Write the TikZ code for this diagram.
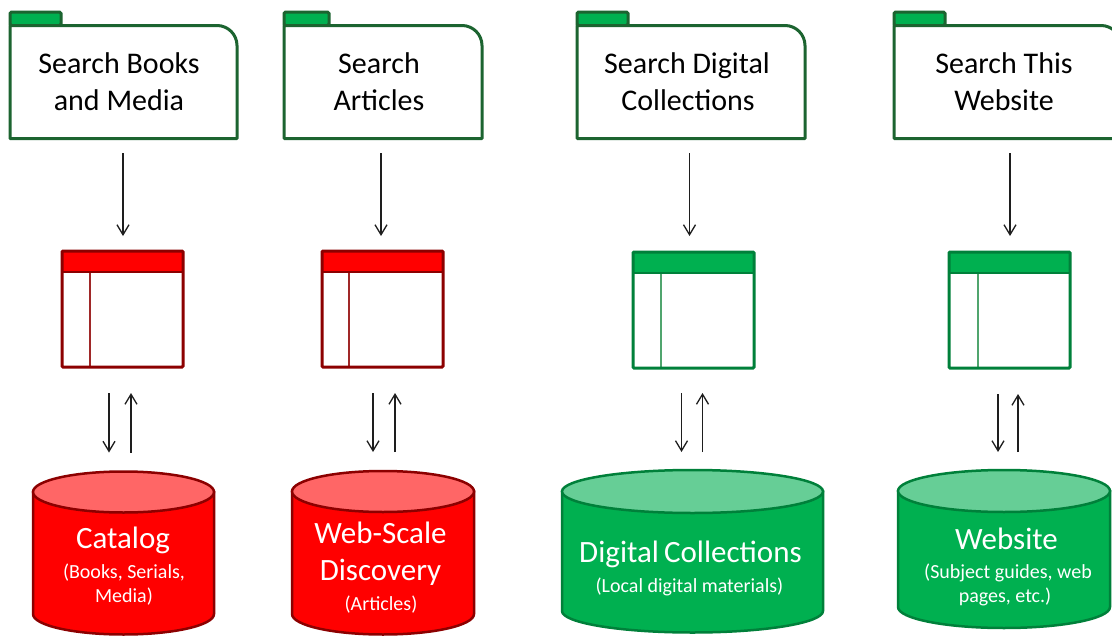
\documentclass[tikz,border=0pt]{standalone}
\usepackage{fontspec}
\setmainfont{Carlito}
\usetikzlibrary{arrows.meta}
\definecolor{fline}{RGB}{28,100,48}
\definecolor{tabgreen}{RGB}{0,176,80}
\definecolor{dkred}{RGB}{140,0,0}
\definecolor{redhead}{RGB}{255,0,0}
\definecolor{redvline}{RGB}{160,40,40}
\definecolor{dkgreen}{RGB}{0,128,58}
\definecolor{greenhead}{RGB}{0,176,80}
\definecolor{greenvline}{RGB}{80,165,110}
\definecolor{redbody}{RGB}{255,0,0}
\definecolor{redtop}{RGB}{255,102,102}
\definecolor{greenbody}{RGB}{0,176,80}
\definecolor{greentop}{RGB}{102,206,150}
\definecolor{arrowgray}{RGB}{30,30,30}
\newcommand{\folderbox}[5]{% name, L, R, tabR, text x
  \draw[line width=3pt, draw=fline, fill=tabgreen, rounded corners=1.5pt] (#2,25.5) -- (#2,12) -- (#4,12) -- (#4,25.5) -- cycle;
  \draw[line width=3pt, draw=fline, fill=white, line join=round] (#2,138.5) -- (#2,25.5) -- ({#3-20},25.5) .. controls ({#3-9},25.5) and (#3,34.5) .. (#3,45.5) -- (#3,138.5) -- cycle;
  \node[inner sep=0, outer sep=0, minimum width={#3-#2}, minimum height=113] (#1) at ({(#2+#3)/2},82) {};
}
\newcommand{\tablebox}[5]{% name, L, top, kind, vline offset
  \node[inner sep=0, outer sep=0, minimum width=121, minimum height=116, anchor=north west] (#1) at (#2,#3) {};
  \fill[#4head] (#1.north west) rectangle ([yshift=-21pt]#1.north east);
  \draw[#4vline, line width=1.5pt] ([xshift=#5pt,yshift=-21pt]#1.north west) -- ([xshift=#5pt]#1.south west);
  \draw[dk#4, line width=2.5pt] ([yshift=-21pt]#1.north west) -- ([yshift=-21pt]#1.north east);
  \draw[dk#4, line width=3pt, rounded corners=1pt] (#1.north west) rectangle (#1.south east);
}
\newcommand{\dbcyl}[7]{% name, cx, rx, top cy, bottom cy, ry, kind
  \draw[line width=2.5pt, draw=dk#7, fill=#7body] ({#2-#3},#4) -- ({#2-#3},#5) .. controls ({#2-#3},{#5+0.5523*#6}) and ({#2-0.5523*#3},{#5+#6}) .. (#2,{#5+#6}) .. controls ({#2+0.5523*#3},{#5+#6}) and ({#2+#3},{#5+0.5523*#6}) .. ({#2+#3},#5) -- ({#2+#3},#4) -- cycle;
  \draw[line width=2.5pt, draw=dk#7, fill=#7top] ({#2-#3},#4) .. controls ({#2-#3},{#4-0.5523*#6}) and ({#2-0.5523*#3},{#4-#6}) .. (#2,{#4-#6}) .. controls ({#2+0.5523*#3},{#4-#6}) and ({#2+#3},{#4-0.5523*#6}) .. ({#2+#3},#4) .. controls ({#2+#3},{#4+0.5523*#6}) and ({#2+0.5523*#3},{#4+#6}) .. (#2,{#4+#6}) .. controls ({#2-0.5523*#3},{#4+#6}) and ({#2-#3},{#4+0.5523*#6}) .. cycle;
  \coordinate (#1) at (#2,{#4-#6});
}
\begin{document}
\begin{tikzpicture}[x=1pt, y=-1pt,
  arr/.style={draw=arrowgray, line width=1.3pt, -{Straight Barb[length=10pt,width=12pt,line width=1.3pt]}},
  ftext/.style={anchor=base, inner sep=0, font=\fontsize{30}{37}\selectfont, text=black},
  cmain/.style={anchor=base, inner sep=0, font=\fontsize{31}{38}\selectfont, text=white},
  csub/.style={anchor=base, inner sep=0, font=\fontsize{20}{24}\selectfont, text=white}]
\useasboundingbox (0,0) rectangle (1112,637);
\clip (0,0) rectangle (1112,637);
\fill[white] (0,0) rectangle (1112,637);

% folders
\folderbox{f1}{10}{237}{61}{119}
\folderbox{f2}{284}{482}{329}{379}
\folderbox{f3}{577}{805}{628}{687}
\folderbox{f4}{894}{1121}{945}{1004}
\node[ftext] (f1a) at (119,73) {Search Books};
\node[ftext] (f1b) at (119,110) {and Media};
\node[ftext] (f2a) at (379,73) {Search};
\node[ftext] (f2b) at (379,110) {Articles};
\node[ftext] (f3a) at (687,73) {Search Digital};
\node[ftext] (f3b) at (688,110) {Collections};
\node[ftext] (f4a) at (1004,73) {Search This};
\node[ftext] (f4b) at (1004,110) {Website};

% tables
\tablebox{t1}{62}{251}{red}{28}
\tablebox{t2}{322}{251}{red}{27}
\tablebox{t3}{633}{252}{green}{28}
\tablebox{t4}{949}{252}{green}{29}

% cylinders
\dbcyl{c1}{123.5}{90.5}{492}{614}{20.5}{red}
\dbcyl{c2}{383}{91}{491.5}{614}{20.5}{red}
\dbcyl{c3}{692.5}{130.5}{491.5}{611}{21.5}{green}
\dbcyl{c4}{1004}{106}{491}{607}{21}{green}

\node[cmain] (c1a) at (123,548) {Catalog};
\node[csub] (c1b) at (124,578) {(Books, Serials,};
\node[csub] (c1c) at (124,602) {Media)};
\node[cmain] (c2a) at (380.5,543) {Web-Scale};
\node[cmain] (c2b) at (380.5,580) {Discovery};
\node[csub] (c2c) at (381,610) {(Articles)};
\node[cmain] (c3a) at (690.5,562) {Digital\hspace{-2pt} Collections};
\node[csub] (c3b) at (689.5,592) {(Local digital materials)};
\node[cmain] (c4a) at (1006.5,549) {Website};
\node[csub] (c4b) at (1008,578) {(Subject guides, web};
\node[csub] (c4c) at (1005,602) {pages, etc.)};

% arrows folder -> table
\draw[arr, shorten <=14.5pt, shorten >=15pt] ([xshift=0.5pt]t1.north |- f1.south) -- ([xshift=0.5pt]t1.north);
\draw[arr, shorten <=14.5pt, shorten >=15pt] ([xshift=-1.5pt]t2.north |- f2.south) -- ([xshift=-1.5pt]t2.north);
\draw[arr, shorten <=14.5pt, shorten >=16pt] ([xshift=-4pt]t3.north |- f3.south) -- ([xshift=-4pt]t3.north);
\draw[arr, shorten <=14.5pt, shorten >=16pt] ([xshift=0.5pt]t4.north |- f4.south) -- ([xshift=0.5pt]t4.north);

% arrows table <-> cylinder
\draw[arr, shorten <=26pt, shorten >=19pt] ([xshift=-13.5pt]t1.south) -- ([xshift=-13.5pt]t1.south |- c1);
\draw[arr, shorten <=19pt, shorten >=26pt] ([xshift=8.5pt]t1.south |- c1) -- ([xshift=8.5pt]t1.south);
\draw[arr, shorten <=26pt, shorten >=19pt] ([xshift=-9.5pt]t2.south) -- ([xshift=-9.5pt]t2.south |- c2);
\draw[arr, shorten <=19pt, shorten >=26pt] ([xshift=12.5pt]t2.south |- c2) -- ([xshift=12.5pt]t2.south);
\draw[arr, shorten <=25pt, shorten >=18pt] ([xshift=-12pt]t3.south) -- ([xshift=-12pt]t3.south |- c3);
\draw[arr, shorten <=18pt, shorten >=25pt] ([xshift=9pt]t3.south |- c3) -- ([xshift=9pt]t3.south);
\draw[arr, shorten <=26pt, shorten >=18pt] ([xshift=-11.5pt]t4.south) -- ([xshift=-11.5pt]t4.south |- c4);
\draw[arr, shorten <=18pt, shorten >=26pt] ([xshift=8.5pt]t4.south |- c4) -- ([xshift=8.5pt]t4.south);
\end{tikzpicture}
\end{document}
